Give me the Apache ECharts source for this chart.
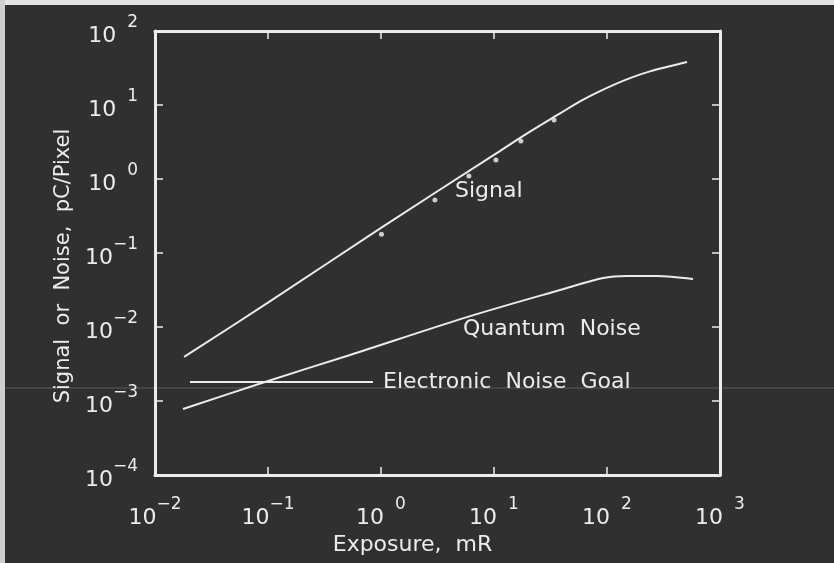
<!DOCTYPE html>
<html><head><meta charset="utf-8">
<script src="https://cdn.jsdelivr.net/npm/echarts@6/dist/echarts.min.js"></script>
<style>html,body{margin:0;padding:0;background:#303030;}#c{width:834px;height:563px;}</style>
</head><body><div id="c"></div>
<script>
// Signal curve (pC/Pixel) vs exposure (mR)
const signalExposure = [0.0181, 0.1, 1, 10, 20, 38.4, 57.7, 86.7, 144, 240, 511];
const signalValue    = [0.00394, 0.0213, 0.219, 2.12, 4.2, 7.69, 11.2, 15.4, 21.7, 28.5, 38.1];
// Measured signal points
const measuredExposure = [1.01, 3.0, 6.0, 10.4, 17.3, 34.0];
const measuredSignal   = [0.179, 0.52, 1.10, 1.81, 3.27, 6.27];
// Quantum noise curve
const quantumExposure = [0.0177, 0.094, 0.532, 5.77, 38.4, 92.3, 150, 277, 577];
const quantumNoise    = [0.00078, 0.00181, 0.00419, 0.0136, 0.0316, 0.0459, 0.0489, 0.0489, 0.0446];
// Electronic noise goal
const goalExposure = [0.0204, 0.849];
const goalNoise    = [0.00181, 0.00181];
// Texts
const curveLabels = ['Signal', 'Quantum  Noise', 'Electronic  Noise  Goal'];
const xAxisTitle = 'Exposure,  mR';
const yAxisTitle = 'Signal  or  Noise,  pC/Pixel';

const FG = '#ececec';
const FONT = 'DejaVu Sans';
const zip = (a, b) => a.map((v, i) => [v, b[i]]);

function powLabel(v) {
  const e = Math.round(Math.log10(v));
  return e < 0 ? '{b|10}{en|\u2212' + (-e) + '}' : '{b|10}{ep|' + e + '}';
}
const rich = {
  b: { fontSize: 22, lineHeight: 33, verticalAlign: 'bottom', color: FG, fontFamily: FONT },
  en: { fontSize: 17, lineHeight: 17, verticalAlign: 'top', color: FG, fontFamily: FONT },
  ep: { fontSize: 17, lineHeight: 17, verticalAlign: 'top', color: FG, fontFamily: FONT, padding: [0, 0, 0, 11] }
};
const axisLine = { show: true, lineStyle: { color: FG, width: 3 } };
const axisTick = { show: true, inside: true, length: 8, lineStyle: { color: FG, width: 1.5 } };

const chart = echarts.init(document.getElementById('c'), null, { renderer: 'canvas' });
chart.setOption({
  backgroundColor: '#303030',
  animation: false,
  grid: { left: 155, right: 114, top: 31, bottom: 88, outerBoundsMode: 'none', containLabel: false },
  xAxis: [
    { type: 'log', logBase: 10, min: 0.01, max: 1000, splitNumber: 5,
      axisLine, axisTick, splitLine: { show: false },
      axisLabel: { formatter: powLabel, rich, margin: 21, showMinLabel: true, showMaxLabel: true, hideOverlap: false },
      name: xAxisTitle, nameLocation: 'middle', nameGap: 56,
      nameTextStyle: { color: FG, fontSize: 22, fontFamily: FONT, padding: [0, 50, 0, 0] } },
    { type: 'log', logBase: 10, min: 0.01, max: 1000, splitNumber: 5, position: 'top',
      axisLine, axisTick, splitLine: { show: false }, axisLabel: { show: false } }
  ],
  yAxis: [
    { type: 'log', logBase: 10, min: 0.0001, max: 100, splitNumber: 6,
      axisLine, axisTick, splitLine: { show: false },
      axisLabel: { formatter: powLabel, rich, margin: 17, showMinLabel: true, showMaxLabel: true, hideOverlap: false },
      name: yAxisTitle, nameLocation: 'middle', nameGap: 79, nameRotate: 90,
      nameTextStyle: { color: FG, fontSize: 21, fontFamily: FONT, padding: [0, 26, 0, 0] } },
    { type: 'log', logBase: 10, min: 0.0001, max: 100, splitNumber: 6, position: 'right',
      axisLine, axisTick, splitLine: { show: false }, axisLabel: { show: false } }
  ],
  series: [
    { type: 'line', data: zip(signalExposure, signalValue), smooth: 0.3, symbol: 'none',
      lineStyle: { color: FG, width: 2 } },
    { type: 'scatter', data: zip(measuredExposure, measuredSignal), symbolSize: 5,
      itemStyle: { color: '#f4f4f4' } },
    { type: 'line', data: zip(quantumExposure, quantumNoise), smooth: 0.3, symbol: 'none',
      lineStyle: { color: FG, width: 2 } },
    { type: 'line', data: zip(goalExposure, goalNoise), symbol: 'none',
      lineStyle: { color: FG, width: 2 } }
  ],
  graphic: [
    { type: 'rect', left: 0, top: 0, shape: { width: 834, height: 5 }, style: { fill: '#e4e4e4' }, silent: true },
    { type: 'rect', left: 0, top: 0, shape: { width: 5, height: 563 }, style: { fill: '#cfcfcf' }, silent: true },
    { type: 'line', shape: { x1: 5, y1: 388, x2: 834, y2: 388 }, style: { stroke: '#5c5c5c', lineWidth: 1 }, silent: true, z: -1 },
    { type: 'text', left: 455, top: 180, style: { text: curveLabels[0], fill: FG, font: '22px "DejaVu Sans"' } },
    { type: 'text', left: 463, top: 318, style: { text: curveLabels[1], fill: FG, font: '22px "DejaVu Sans"' } },
    { type: 'text', left: 383, top: 371, style: { text: curveLabels[2], fill: FG, font: '22px "DejaVu Sans"' } }
  ]
});
</script></body></html>
